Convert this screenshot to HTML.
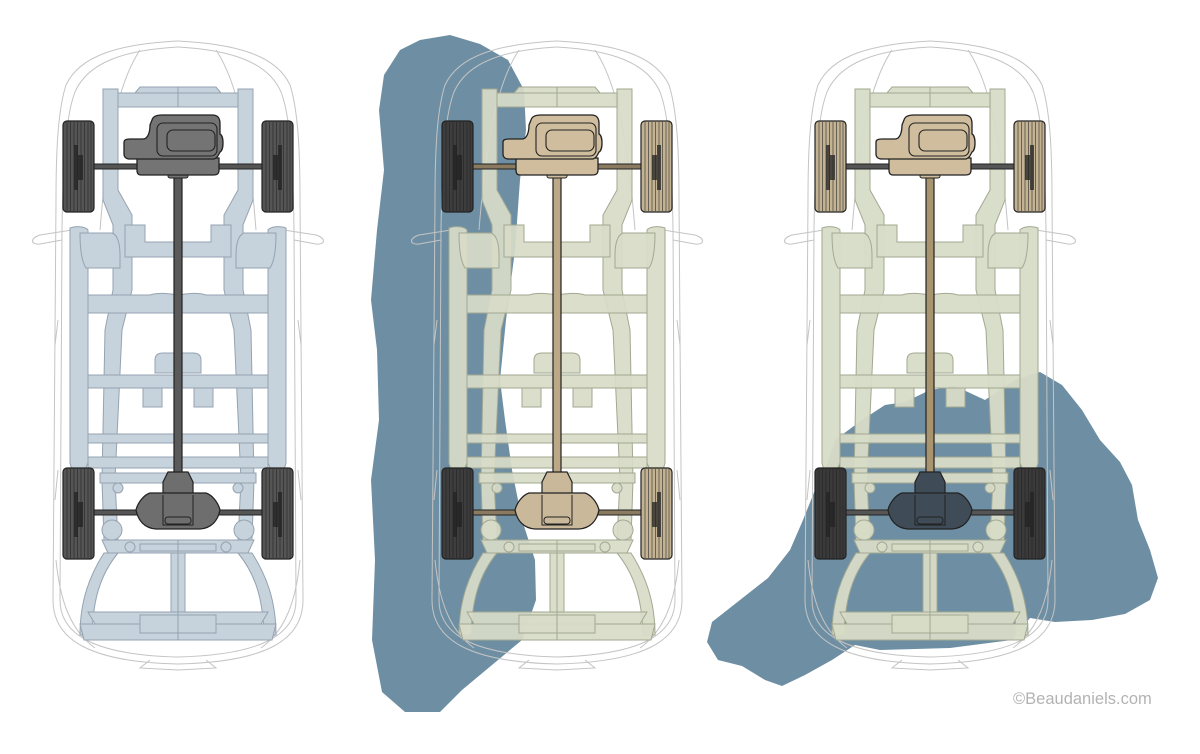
<!DOCTYPE html>
<html><head><meta charset="utf-8"><style>
html,body{margin:0;padding:0;background:#fff;}
svg{display:block}
.fr{fill:var(--fr);stroke:var(--frs);stroke-width:1}
.bd{fill:none;stroke:#c4c4c4;stroke-width:1}
</style></head><body>
<svg width="1200" height="754" viewBox="0 0 1200 754" xmlns="http://www.w3.org/2000/svg">
<defs>
<g id="tire">
  <rect x="0" y="0" width="31" height="91" rx="4" style="fill:var(--w)" stroke="#222" stroke-width="1.2"/>
  <g stroke="#222" stroke-width="0.8" opacity="0.7">
    <line x1="4" y1="1" x2="4" y2="90"/><line x1="7.5" y1="1" x2="7.5" y2="90"/><line x1="11" y1="1" x2="11" y2="90"/>
    <line x1="14.5" y1="1" x2="14.5" y2="90"/><line x1="18" y1="1" x2="18" y2="90"/><line x1="21.5" y1="1" x2="21.5" y2="90"/>
    <line x1="25" y1="1" x2="25" y2="90"/><line x1="28" y1="1" x2="28" y2="90"/>
  </g>
</g>
<g id="half">
  <path class="bd" d="M178,41 C120,44 80,55 66,85 C58,110 56,150 56,200 L53,600 C53,640 90,662 178,664"/>
  <path class="bd" d="M178,47 C125,50 88,62 75,92 C66,115 63,160 62,230 L60,600 C60,635 95,655 178,657"/>
  <path class="bd" d="M140,50 C120,80 108,130 100,230"/>
  <path class="bd" d="M72,230 L40,235 C30,238 30,245 40,244 L62,240"/>
  <path class="bd" d="M58,320 L55,345 M58,470 L55,500 M56,560 C60,600 70,630 95,648"/>
  <path class="bd" d="M150,660 L140,668 L178,670"/>
  <path class="fr" d="M117,93 H178 V107 H117 Z"/>
  <path class="fr" d="M135,93 L140,87 H178 V93 Z"/>
  <!-- rail: top post blending into inner rail -->
  <path class="fr" d="M103,89 L118,89 L118,190 L132,215 L132,290 L122,330 L115,480 L118,540 L104,540 L102,480 L105,330 L113,290 L113,225 L103,200 Z"/>
  <path class="fr" d="M70,228 C75,226 85,226 88,230 L88,463 L85,470 L72,470 L70,463 Z"/>
  <path class="fr" d="M80,233 H112 C118,235 120,245 120,255 V268 H86 C82,262 80,250 80,233 Z"/>
  <path class="fr" d="M125,225 H145 V242 H178 V257 H125 Z"/>
  <path class="fr" d="M88,295 H150 C160,292 170,294 178,295 V313 H88 Z"/>
  <rect class="fr" x="88" y="375" width="90" height="13"/>
  <path class="fr" d="M155,373 V360 C155,355 158,353 163,353 H178 V373 Z"/>
  <rect class="fr" x="143" y="388" width="19" height="19"/>
  <rect class="fr" x="88" y="434" width="90" height="9"/>
  <rect class="fr" x="88" y="457" width="90" height="11"/>
  <rect class="fr" x="100" y="473" width="78" height="10"/>
  <circle class="fr" cx="118" cy="488" r="5"/>
  <circle class="fr" cx="112" cy="530" r="10"/>
  <path class="fr" d="M102,540 H178 V553 H108 Z"/>
  <circle class="fr" cx="130" cy="547" r="5"/>
  <rect class="fr" x="140" y="544" width="38" height="7"/>
  <path class="fr" d="M104,553 C90,575 80,600 80,635 H92 C93,600 100,575 118,553 Z"/>
  <rect class="fr" x="171" y="553" width="7" height="60"/>
  <path class="fr" d="M88,612 H178 V624 H95 Z"/>
  <path class="fr" d="M80,624 H178 V640 H84 Z"/>
  <rect class="fr" x="140" y="615" width="38" height="18"/>
</g>
<g id="car">
  <use href="#half"/>
  <use href="#half" transform="translate(356,0) scale(-1,1)"/>
  <rect x="76" y="164" width="204" height="5" style="fill:var(--ax)" stroke="#222" stroke-width="1"/>
  <rect x="76" y="510" width="204" height="5" style="fill:var(--ax)" stroke="#222" stroke-width="1"/>
  <use href="#tire" x="63" y="121" style="--w:var(--wfl)"/>
  <use href="#tire" x="262" y="121" style="--w:var(--wfr)"/>
  <use href="#tire" x="63" y="468" style="--w:var(--wrl)"/>
  <use href="#tire" x="262" y="468" style="--w:var(--wrr)"/>
  <g fill="#222" opacity="0.75">
    <rect x="74" y="145" width="4" height="45"/><rect x="78" y="155" width="5" height="25"/>
    <rect x="278" y="145" width="4" height="45"/><rect x="273" y="155" width="5" height="25"/>
    <rect x="74" y="492" width="4" height="45"/><rect x="78" y="502" width="5" height="25"/>
    <rect x="278" y="492" width="4" height="45"/><rect x="273" y="502" width="5" height="25"/>
  </g>
  <rect x="174" y="175" width="8" height="298" style="fill:var(--ds)" stroke="#222" stroke-width="1.2"/>
  <rect x="168" y="174" width="20" height="4" rx="2" style="fill:var(--eng)" stroke="#222" stroke-width="1"/>
  <path d="M137,158 H219 V170 C219,174 217,175 213,175 H141 C138,175 137,173 137,170 Z" style="fill:var(--eng)" stroke="#222" stroke-width="1.3"/>
  <path d="M124,142 C124,140 126,139 130,139 H143 C148,139 150,132 150,125 L152,120 C153,116 157,115 162,115 H212 C218,115 220,118 220,124 V134 C224,136 224,150 220,152 C218,156 217,158 214,159 H130 C126,159 124,157 124,154 Z" style="fill:var(--eng)" stroke="#222" stroke-width="1.3"/>
  <rect x="157" y="123" width="60" height="33" rx="6" fill="none" stroke="#222" stroke-width="1.1"/>
  <rect x="167" y="130" width="48" height="21" rx="6" fill="none" stroke="#222" stroke-width="1.1"/>
  <path d="M168,472 H188 L193,482 V495 H163 V482 Z" style="fill:var(--df)" stroke="#222" stroke-width="1.2"/>
  <path d="M150,493 H206 C212,495 218,502 220,510 C218,520 212,528 200,529 H156 C144,528 138,520 136,510 C138,502 144,495 150,493 Z" style="fill:var(--df)" stroke="#222" stroke-width="1.3"/>
  <path d="M163,495 V525 H193 V495" fill="none" stroke="#222" stroke-width="1"/>
  <rect x="165" y="517" width="26" height="7" rx="3" fill="none" stroke="#222" stroke-width="1"/>
</g>
</defs>

<path fill="#6e8fa3" d="M420,40 L450,35 L480,44 L508,60 L524,90 L526,130 L520,180 L515,250 L506,320 L500,380 L505,420 L512,470 L522,520 L535,560 L536,600 L522,640 L492,665 L462,690 L440,712 L405,712 L382,692 L372,640 L375,560 L371,480 L379,420 L377,350 L371,300 L377,230 L384,170 L379,110 L384,75 L400,50 Z"/>
<path fill="#6e8fa3" d="M835,440 L862,420 L885,405 L905,402 L930,390 L955,386 L985,400 L1015,380 L1040,372 L1062,385 L1082,410 L1100,440 L1120,462 L1132,485 L1138,520 L1150,550 L1158,578 L1150,600 L1125,614 L1092,620 L1055,622 L1030,618 L1012,640 L950,648 L880,650 L855,645 L832,660 L805,675 L782,686 L765,680 L742,666 L718,660 L707,642 L712,622 L740,600 L768,578 L790,550 L803,520 L815,490 L828,462 Z"/>

<use href="#car" style="--fr:#c6d2dc;--frs:#95a3b0;--eng:#747474;--df:#6e6e6e;--ds:#5a5a5a;--ax:#555;--wfl:#555;--wfr:#555;--wrl:#555;--wrr:#555"/>
<use href="#car" x="379" style="--fr:rgba(215,220,199,0.93);--frs:#a2a892;--eng:#cfbd9e;--df:#cab89a;--ds:#bca886;--ax:#8a7a60;--wfl:#3d3d3d;--wfr:#c4b393;--wrl:#3d3d3d;--wrr:#c4b393"/>
<use href="#car" x="752" style="--fr:rgba(215,220,199,0.95);--frs:#a2a892;--eng:#cfbd9e;--df:#3f4c57;--ds:#a8946f;--ax:#555;--wfl:#c4b393;--wfr:#c4b393;--wrl:#3a3a3a;--wrr:#3a3a3a"/>

<text x="1013" y="704" font-family="Liberation Sans, sans-serif" font-size="16.5" fill="#b3b3b3">©Beaudaniels.com</text>
</svg>
</body></html>
